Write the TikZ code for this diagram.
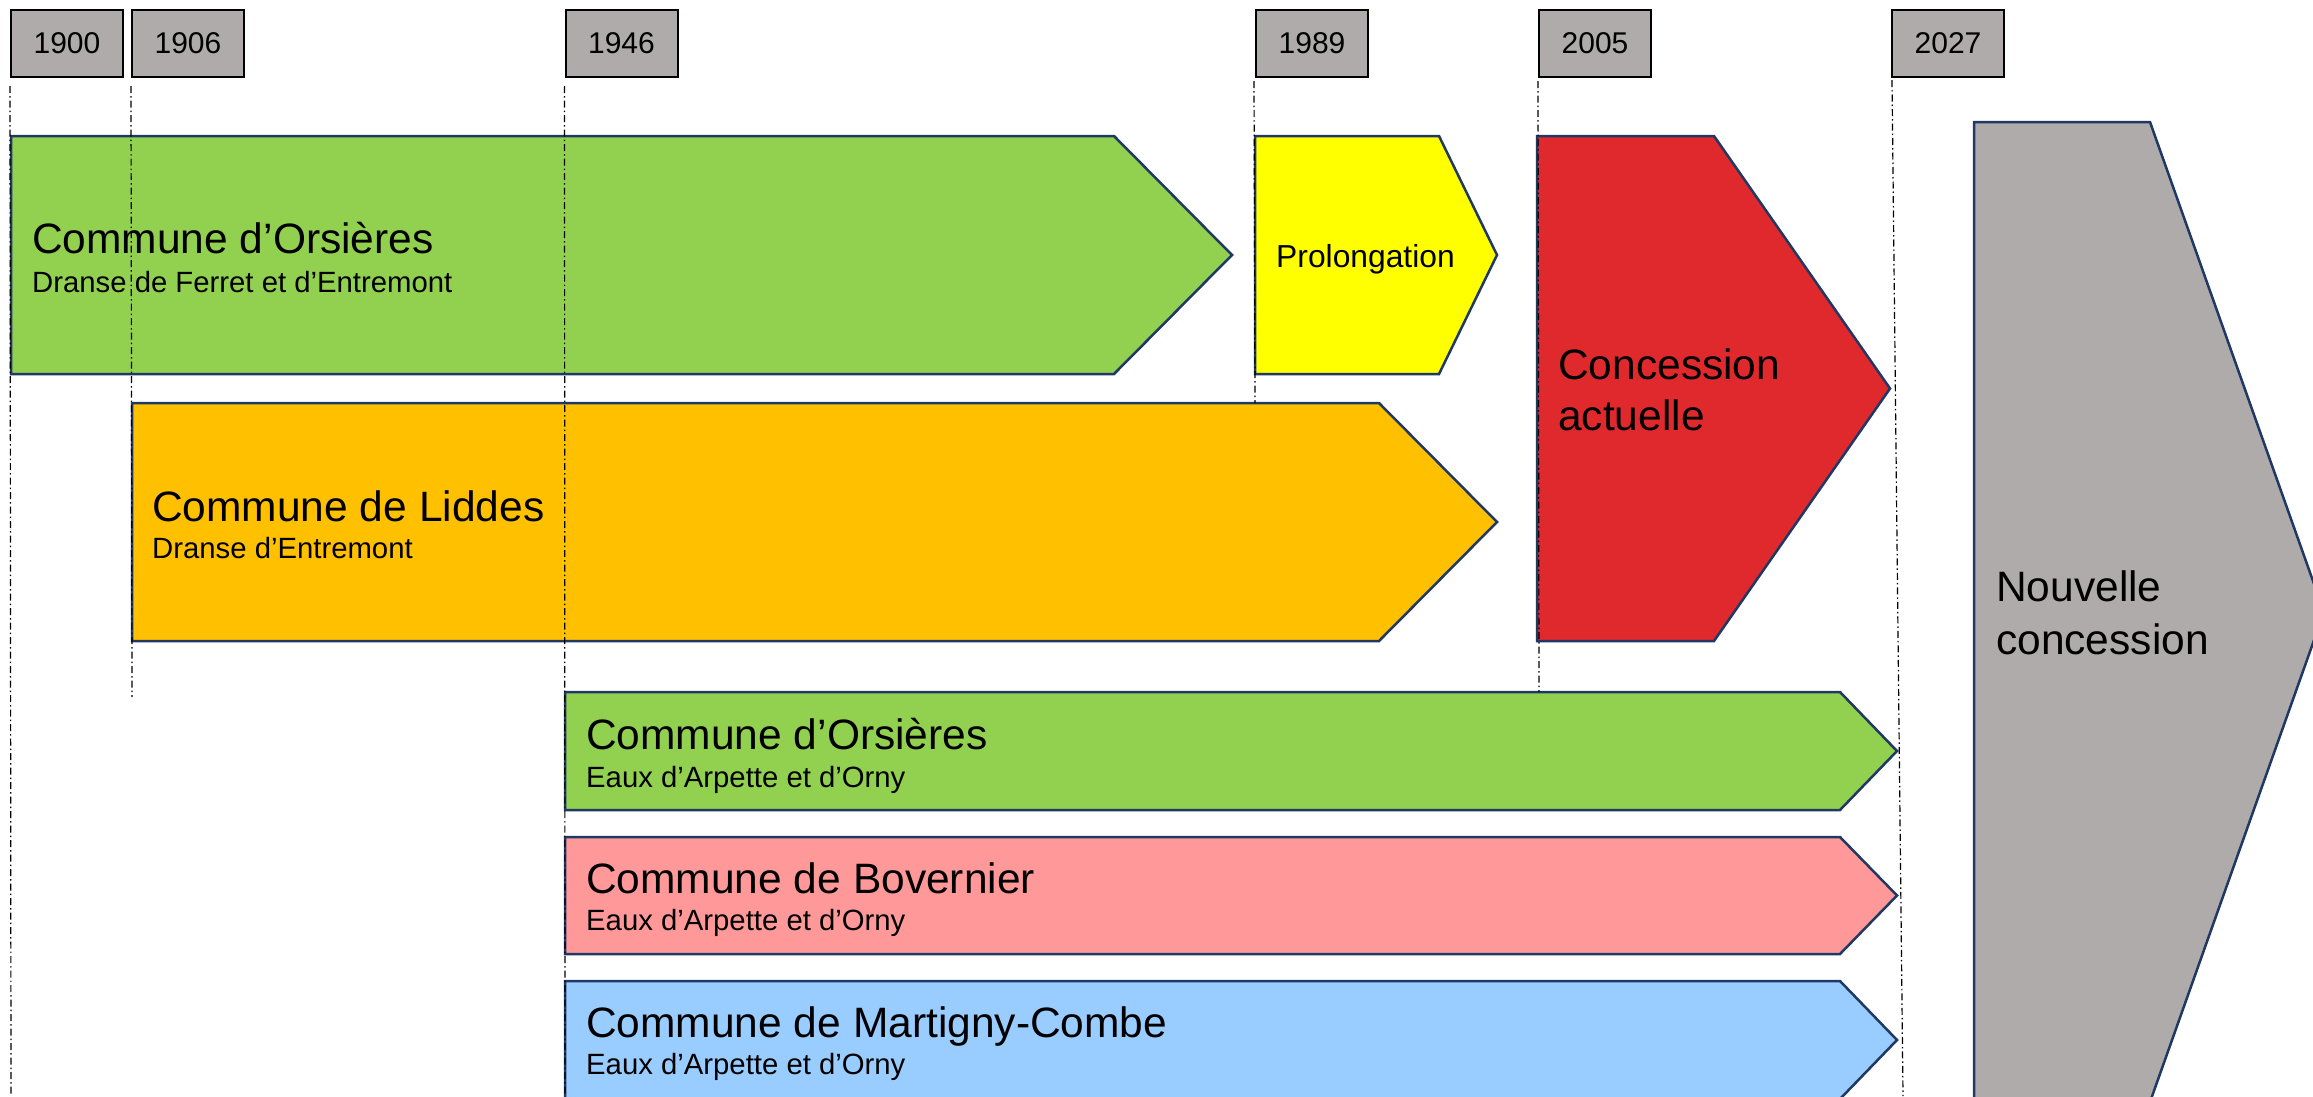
\documentclass[tikz,border=0pt]{standalone}
\usepackage{fontspec}
\setmainfont{Liberation Sans}
\definecolor{boxgray}{RGB}{175,171,171}
\definecolor{barline}{RGB}{32,56,100}
\definecolor{bargreen}{RGB}{146,208,80}
\definecolor{baryellow}{RGB}{255,255,0}
\definecolor{barred}{RGB}{224,41,44}
\definecolor{barorange}{RGB}{255,192,0}
\definecolor{barpink}{RGB}{255,153,153}
\definecolor{barblue}{RGB}{153,204,255}
\begin{document}
\begin{tikzpicture}[x=1pt,y=-1pt,
  yearbox/.style={draw=black, line width=2pt, fill=boxgray, minimum width=112pt, minimum height=67pt, inner sep=0pt, font=\fontsize{30}{36}\selectfont},
  bar/.style={draw=barline, line width=2.5pt, line join=miter},
  guide/.style={line width=1.2pt, dash pattern=on 7pt off 3pt on 1.5pt off 3pt},
  title/.style={anchor=base west, inner sep=0pt, font=\fontsize{42.5}{50}\selectfont},
  sub/.style={anchor=base west, inner sep=0pt, font=\fontsize{29.3}{35}\selectfont}]
\clip (0,0) rectangle (2313,1096);
\fill[white] (0,0) rectangle (2313,1096);

% year boxes
\node[yearbox] (y1900) at (67,43.5) {1900};
\node[yearbox] (y1906) at (188,43.5) {1906};
\node[yearbox] (y1946) at (621.5,43.5) {1946};
\node[yearbox] (y1989) at (1312,43.5) {1989};
\node[yearbox] (y2005) at (1595,43.5) {2005};
\node[yearbox] (y2027) at (1948,43.5) {2027};

% bars
\draw[bar, fill=bargreen] (11,136) -- (1114,136) -- (1232,255) -- (1114,374) -- (11,374) -- cycle;
\draw[bar, fill=baryellow] (1255,136) -- (1439,136) -- (1497,255) -- (1439,374) -- (1255,374) -- cycle;
\draw[bar, fill=barred] (1537,136) -- (1714,136) -- (1890,388.5) -- (1714,641) -- (1537,641) -- cycle;
\draw[bar, fill=barorange] (132,403) -- (1379,403) -- (1497,522) -- (1379,641) -- (132,641) -- cycle;
\draw[bar, fill=boxgray] (1974,122) -- (2150,122) -- (2324,612) -- (2150,1102) -- (1974,1102) -- cycle;
\draw[bar, fill=bargreen] (565,692) -- (1840,692) -- (1897,751) -- (1840,810) -- (565,810) -- cycle;
\draw[bar, fill=barpink] (565,837) -- (1840,837) -- (1897,895.5) -- (1840,954) -- (565,954) -- cycle;
\draw[bar, fill=barblue] (565,981) -- (1840,981) -- (1897,1040) -- (1840,1099) -- (565,1099) -- cycle;

% texts
\node[title] (t1) at (32,253) {Commune d’Orsières};
\node[sub] (s1) at (32,292) {Dranse de Ferret et d’Entremont};
\node[anchor=base west, inner sep=0pt, font=\fontsize{31.8}{38}\selectfont] (prol) at (1276,267) {Prolongation};
\node[title] (conc1) at (1558,379) {Concession};
\node[title] (conc2) at (1558,430) {actuelle};
\node[title] (t2) at (152,521) {Commune de Liddes};
\node[sub] (s2) at (152,558) {Dranse d’Entremont};
\node[title] (nouv1) at (1996,601) {Nouvelle};
\node[title] (nouv2) at (1996,654) {concession};
\node[title] (t3) at (586,749) {Commune d’Orsières};
\node[sub] (s3) at (586,787) {Eaux d’Arpette et d’Orny};
\node[title] (t4) at (586,893) {Commune de Bovernier};
\node[sub] (s4) at (586,930) {Eaux d’Arpette et d’Orny};
\node[title] (t5) at (586,1037) {Commune de Martigny-Combe};
\node[sub] (s5) at (586,1074) {Eaux d’Arpette et d’Orny};

% guide lines
\coordinate (e1900) at (11,1096);
\coordinate (e1906) at (132,697);
\coordinate (e1946) at (565,1096);
\coordinate (e1989) at (1255,403);
\coordinate (e2005) at (1539,692);
\coordinate (e2027) at (1903,1096);
\draw[guide] ([yshift=-8pt]y1900.south west) -- (e1900);
\draw[guide] ([yshift=-8pt]y1906.south west) -- (e1906);
\draw[guide] ([yshift=-8pt]y1946.south west) -- (e1946);
\draw[guide] ([xshift=-1pt,yshift=-3pt]y1989.south west) -- (e1989);
\draw[guide] ([yshift=-3pt]y2005.south west) -- (e2005);
\draw[guide] ([xshift=1pt,yshift=-2pt]y2027.south west) -- (e2027);
\end{tikzpicture}
\end{document}
